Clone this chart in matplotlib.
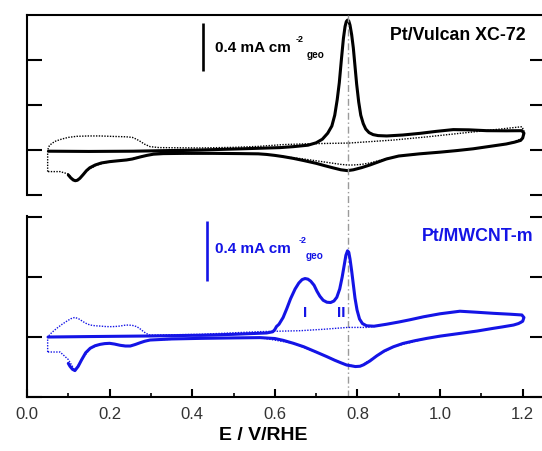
import numpy as np
import matplotlib
matplotlib.use("Agg")
import matplotlib.pyplot as plt
from matplotlib.ticker import MultipleLocator
from matplotlib.transforms import blended_transform_factory

plt.rcParams["font.family"] = ["Liberation Sans", "DejaVu Sans"]

BLUE = "#1414e6"
E_CO_PEAK = 0.776   # pozycja piku II / piku CO na Vulcanie

# --- Pt/Vulcan XC-72: pierwszy cykl (stripping CO) ---
vulcan_co_E = [0.052, 0.15, 0.257, 0.42, 0.52, 0.613, 0.645, 0.68, 0.70, 0.715, 0.728, 0.738,
               0.745, 0.751, 0.756, 0.761, 0.766, 0.770, 0.773, 0.776, 0.779, 0.782, 0.786,
               0.790, 0.794, 0.798, 0.803, 0.808, 0.814, 0.820, 0.828, 0.838, 0.85, 0.871,
               0.91, 0.952, 0.99, 1.032, 1.07, 1.113, 1.16, 1.198,
               1.203, 1.2, 1.195, 1.18, 1.16, 1.12, 1.08, 1.04, 1.0, 0.95, 0.9, 0.87, 0.85,
               0.83, 0.81, 0.79, 0.776, 0.76, 0.74, 0.72, 0.7, 0.67, 0.645, 0.62, 0.6, 0.58,
               0.56, 0.516, 0.45, 0.38, 0.33, 0.306, 0.29, 0.274, 0.255, 0.241, 0.22, 0.2,
               0.18, 0.165, 0.152, 0.144, 0.136, 0.128, 0.122, 0.117, 0.112, 0.106, 0.1]
vulcan_co_j = [-0.01, -0.012, -0.01, 0.0, 0.01, 0.02, 0.028, 0.04, 0.06, 0.09, 0.14, 0.2,
               0.29, 0.42, 0.56, 0.75, 0.93, 1.03, 1.07, 1.083, 1.075, 1.04, 0.96,
               0.85, 0.70, 0.55, 0.40, 0.29, 0.22, 0.175, 0.145, 0.128, 0.12, 0.117,
               0.125, 0.139, 0.155, 0.17, 0.168, 0.161, 0.16, 0.161,
               0.14, 0.1, 0.08, 0.065, 0.05, 0.03, 0.01, -0.005, -0.018, -0.032, -0.05, -0.075, -0.1,
               -0.125, -0.147, -0.165, -0.172, -0.165, -0.148, -0.13, -0.111, -0.088, -0.07, -0.055, -0.045, -0.037,
               -0.032, -0.03, -0.028, -0.028, -0.03, -0.035, -0.045, -0.058, -0.075, -0.083, -0.09, -0.097,
               -0.108, -0.125, -0.148, -0.172, -0.205, -0.236, -0.252, -0.256, -0.25, -0.232, -0.208]

# --- Pt/Vulcan XC-72: drugi cykl (tlo) ---
vulcan_bg_E = [0.05, 0.05, 0.054, 0.06, 0.07, 0.085, 0.1, 0.12, 0.15, 0.177, 0.21, 0.24, 0.255,
               0.265, 0.274, 0.285, 0.298, 0.32, 0.42, 0.5, 0.56, 0.62, 0.68, 0.78, 0.887,
               0.97, 1.048, 1.12, 1.198, 1.203, 1.2, 1.18, 1.16, 1.12, 1.08, 1.0, 0.9, 0.87,
               0.85, 0.83, 0.81, 0.79, 0.776, 0.76, 0.74, 0.72, 0.7, 0.67, 0.645, 0.6, 0.564,
               0.516, 0.419, 0.306, 0.274, 0.241, 0.2, 0.169, 0.144, 0.128, 0.119, 0.108,
               0.1, 0.08, 0.052, 0.05]
vulcan_bg_j = [-0.18, 0.0, 0.035, 0.055, 0.075, 0.092, 0.105, 0.114, 0.117, 0.117, 0.113, 0.11, 0.105,
               0.09, 0.072, 0.048, 0.028, 0.02, 0.017, 0.022, 0.03, 0.045, 0.052, 0.058, 0.083,
               0.11, 0.139, 0.165, 0.194, 0.16, 0.1, 0.07, 0.05, 0.03, 0.01, -0.018, -0.05, -0.072,
               -0.09, -0.108, -0.12, -0.125, -0.125, -0.12, -0.11, -0.1, -0.09, -0.075, -0.065, -0.045, -0.032,
               -0.03, -0.028, -0.033, -0.056, -0.083, -0.097, -0.125, -0.172, -0.236, -0.256, -0.236,
               -0.2, -0.18, -0.18, -0.18]

# --- Pt/MWCNT-m: pierwszy cykl (stripping CO) ---
mwcnt_co_E = [0.051, 0.15, 0.3, 0.42, 0.5, 0.58, 0.595, 0.6, 0.604, 0.61, 0.62, 0.629, 0.638,
              0.649, 0.658, 0.666, 0.673, 0.68, 0.687, 0.695, 0.702, 0.709, 0.717, 0.726,
              0.735, 0.743, 0.75, 0.757, 0.763, 0.768, 0.772, 0.776, 0.779, 0.782, 0.786,
              0.79, 0.794, 0.799, 0.805, 0.812, 0.822, 0.84, 0.87, 0.9, 0.927, 0.96, 1.0,
              1.048, 1.09, 1.129, 1.17, 1.198,
              1.203, 1.2, 1.19, 1.178, 1.15, 1.129, 1.09, 1.048, 1.0, 0.968, 0.94, 0.91,
              0.887, 0.865, 0.847, 0.83, 0.815, 0.806, 0.795, 0.785, 0.774, 0.76, 0.745,
              0.726, 0.7, 0.67, 0.645, 0.62, 0.6, 0.564, 0.5, 0.42, 0.35, 0.298, 0.285,
              0.274, 0.262, 0.25, 0.238, 0.225, 0.212, 0.2, 0.188, 0.177, 0.165, 0.153,
              0.142, 0.132, 0.124, 0.116, 0.11, 0.104, 0.1]
mwcnt_co_j = [0.0, 0.003, 0.007, 0.012, 0.018, 0.027, 0.035, 0.05, 0.07, 0.085, 0.13, 0.19, 0.255,
              0.32, 0.36, 0.383, 0.39, 0.386, 0.372, 0.345, 0.305, 0.272, 0.245, 0.232,
              0.23, 0.24, 0.265, 0.32, 0.4, 0.48, 0.545, 0.575, 0.565, 0.52, 0.44,
              0.35, 0.26, 0.18, 0.12, 0.09, 0.075, 0.072, 0.085, 0.1, 0.115, 0.135, 0.155,
              0.172, 0.165, 0.158, 0.152, 0.147,
              0.13, 0.105, 0.09, 0.08, 0.067, 0.058, 0.04, 0.024, 0.006, -0.009, -0.024, -0.043,
              -0.065, -0.093, -0.125, -0.16, -0.185, -0.195, -0.197, -0.192, -0.187, -0.172, -0.155,
              -0.131, -0.1, -0.065, -0.042, -0.022, -0.01, -0.004, -0.006, -0.009, -0.013, -0.02, -0.028,
              -0.038, -0.05, -0.06, -0.06, -0.055, -0.047, -0.042, -0.044, -0.049, -0.058, -0.075,
              -0.105, -0.153, -0.195, -0.224, -0.215, -0.195, -0.176]

# --- Pt/MWCNT-m: drugi cykl (tlo) ---
mwcnt_bg_E = [0.05, 0.05, 0.06, 0.072, 0.085, 0.096, 0.106, 0.116, 0.126, 0.136, 0.145, 0.153,
              0.165, 0.177, 0.19, 0.2, 0.213, 0.225, 0.235, 0.245, 0.256, 0.266, 0.275, 0.282,
              0.29, 0.298, 0.35, 0.42, 0.5, 0.564, 0.661, 0.72, 0.776, 0.822, 0.847, 0.87,
              0.927, 1.0, 1.048, 1.129, 1.198, 1.203, 1.2, 1.178, 1.129, 1.048, 0.968,
              0.887, 0.847, 0.806, 0.774, 0.726, 0.645, 0.564, 0.42, 0.298, 0.274, 0.25,
              0.225, 0.2, 0.177, 0.153, 0.132, 0.116, 0.1, 0.08, 0.052, 0.05]
mwcnt_bg_j = [-0.1, 0.0, 0.03, 0.058, 0.085, 0.105, 0.122, 0.131, 0.12, 0.102, 0.088, 0.08,
              0.075, 0.073, 0.07, 0.069, 0.07, 0.073, 0.078, 0.08, 0.077, 0.069, 0.052, 0.036,
              0.022, 0.013, 0.015, 0.018, 0.028, 0.036, 0.042, 0.052, 0.064, 0.064, 0.073, 0.085,
              0.115, 0.155, 0.172, 0.158, 0.147, 0.13, 0.1, 0.08, 0.058, 0.024, -0.009,
              -0.065, -0.125, -0.195, -0.187, -0.131, -0.042, -0.004, -0.009, -0.02, -0.038, -0.06,
              -0.055, -0.042, -0.049, -0.075, -0.153, -0.224, -0.15, -0.1, -0.1, -0.1]

X_TICKS = [0.0, 0.2, 0.4, 0.6, 0.8, 1.0, 1.2]
SCALE_BAR = 0.4   # mA cm-2


def styl_osi(ax, yticks, tick_len=10.5):
    ax.set_xlim(0, 1.254)
    ax.set_yticks(yticks)
    ax.tick_params(axis="y", which="major", direction="in", left=True, right=True,
                   labelleft=False, length=tick_len, width=1.5)
    for s in ax.spines.values():
        s.set_linewidth(1.5)


def krzywa(ax, E, j, color, kropki=False):
    if kropki:
        ax.plot(E, j, color=color, lw=1.0, linestyle=(0, (1, 1)), zorder=2)
    else:
        ax.plot(E, j, color=color, lw=2.2, zorder=3,
                solid_joinstyle="round", solid_capstyle="round")


def pasek_skali(ax, x, y0, color, tx, ty, sup_xy, sub_xy):
    ax.plot([x, x], [y0, y0 + SCALE_BAR], color=color, lw=1.9, solid_capstyle="butt")
    ax.text(tx, ty, "0.4 mA cm", color=color, fontsize=11, fontweight="bold",
            ha="left", va="baseline")
    ax.text(sup_xy[0], sup_xy[1], "-2", color=color, fontsize=6.5, fontweight="bold",
            ha="left", va="baseline")
    ax.text(sub_xy[0], sub_xy[1], "geo", color=color, fontsize=7.2, fontweight="bold",
            ha="left", va="baseline")


def main():
    fig = plt.figure(figsize=(5.42, 4.51), dpi=100)
    W, H = 542.0, 451.0

    # panel gorny: Pt/Vulcan XC-72
    ax1 = fig.add_axes([27 / W, 1 - 195 / H, 518 / W, 180 / H])
    krzywa(ax1, vulcan_bg_E, vulcan_bg_j, "black", kropki=True)
    krzywa(ax1, vulcan_co_E, vulcan_co_j, "black")
    ax1.set_ylim(-0.375, 1.125)
    styl_osi(ax1, [-0.375, 0.0, 0.375, 0.75])
    ax1.spines["bottom"].set_visible(False)
    ax1.tick_params(axis="x", bottom=False, labelbottom=False)
    pasek_skali(ax1, 0.426, 0.658, "black", 0.455, 0.814, (0.650, 0.90), (0.676, 0.77))
    ax1.text(1.044, 0.958, "Pt/Vulcan XC-72", fontsize=12.8, fontweight="bold",
             ha="center", va="center")

    # panel dolny: Pt/MWCNT-m
    ax2 = fig.add_axes([27 / W, 1 - 397 / H, 518 / W, 181 / H])
    krzywa(ax2, mwcnt_bg_E, mwcnt_bg_j, BLUE, kropki=True)
    krzywa(ax2, mwcnt_co_E, mwcnt_co_j, BLUE)
    ax2.set_ylim(-0.4, 0.807)
    styl_osi(ax2, [-0.4, 0.0, 0.4, 0.8])
    ax2.spines["top"].set_visible(False)
    ax2.set_xticks(X_TICKS)
    ax2.set_xticklabels([f"{v:.1f}" for v in X_TICKS])
    ax2.xaxis.set_minor_locator(MultipleLocator(0.1))
    ax2.tick_params(axis="x", which="major", direction="in", length=5.5, width=1.5,
                    labelsize=12, pad=7, labelcolor="#333333")
    ax2.tick_params(axis="x", which="minor", direction="in", length=3, width=1.2)
    pasek_skali(ax2, 0.435, 0.373, BLUE, 0.455, 0.558, (0.658, 0.625), (0.674, 0.52))
    ax2.text(1.092, 0.669, "Pt/MWCNT-m", color=BLUE, fontsize=12.8, fontweight="bold",
             ha="center", va="center")
    ax2.text(0.673, 0.16, "I", color=BLUE, fontsize=11, fontweight="bold", ha="center", va="center")
    ax2.text(0.760, 0.16, "II", color=BLUE, fontsize=11, fontweight="bold", ha="center", va="center")

    # pionowa linia przez oba panele
    tr = blended_transform_factory(ax2.transData, fig.transFigure)
    ax2.plot([E_CO_PEAK, E_CO_PEAK], [1 - 397 / H, 1 - 15 / H], transform=tr,
             color="#9a9a9a", lw=1.0, dashes=(5, 2, 1, 2), clip_on=False, zorder=1)

    fig.text(263 / W, 1 - 435 / H, "E / V/RHE", fontsize=14, fontweight="bold",
             ha="center", va="center")

    fig.savefig("out.png", dpi=100)


if __name__ == "__main__":
    main()
